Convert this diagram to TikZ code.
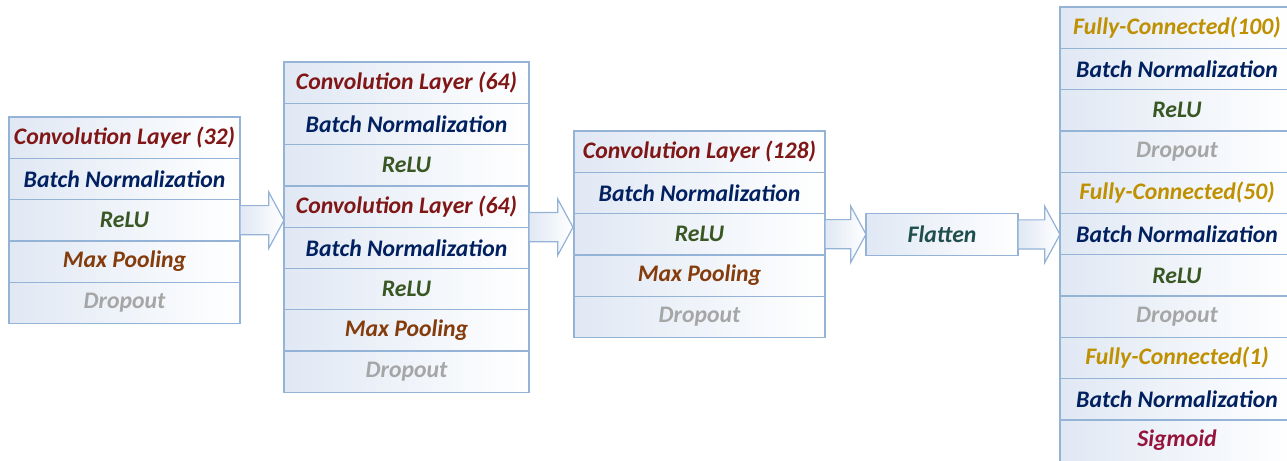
\documentclass[tikz,border=0pt]{standalone}
\usepackage{fontspec}
\setmainfont{Carlito}
\usetikzlibrary{shapes.arrows}

\definecolor{cellline}{RGB}{149,179,215}
\definecolor{cellfill}{RGB}{224,232,244}
\definecolor{convcol}{RGB}{128,22,22}
\definecolor{bncol}{RGB}{0,32,96}
\definecolor{relucol}{RGB}{56,87,35}
\definecolor{poolcol}{RGB}{132,60,12}
\definecolor{dropcol}{RGB}{166,166,166}
\definecolor{fccol}{RGB}{191,144,0}
\definecolor{flatcol}{RGB}{30,78,78}
\definecolor{sigcol}{RGB}{150,20,60}

\tikzset{
  cell/.style = {draw=cellline, line width=0.7pt, left color=cellfill, right color=white,
                 minimum height=0.826cm, inner sep=0pt, outer sep=0pt,
                 font=\fontsize{13.5}{15}\selectfont\bfseries\itshape},
  blockA/.style = {cell, minimum width=4.62cm},
  blockB/.style = {cell, minimum width=4.90cm},
  blockC/.style = {cell, minimum width=5.02cm},
  blockD/.style = {cell, minimum width=4.68cm},
  fatarrow/.style = {single arrow, draw=cellline, line width=0.7pt,
                     left color=cellfill, right color=white,
                     minimum width=0pt, inner xsep=0pt, inner ysep=0.28cm,
                     single arrow head extend=0.27cm,
                     single arrow tip angle=123, minimum height=0.88cm,
                     outer sep=0pt, anchor=tail}
}

\begin{document}
\begin{tikzpicture}
  \useasboundingbox (0,0) rectangle (25.74,-9.22);

  % first convolution block
  \node[blockA, text=convcol] (a1) at (2.49,-2.753) {Convolution Layer (32)};
  \node[blockA, text=bncol]   (a2) at (2.49,-3.579) {Batch Normalization};
  \node[blockA, text=relucol] (a3) at (2.49,-4.405) {ReLU};
  \node[blockA, text=poolcol] (a4) at (2.49,-5.231) {Max Pooling};
  \node[blockA, text=dropcol] (a5) at (2.49,-6.057) {Dropout};

  % second convolution block
  \node[blockB, text=convcol] (b1) at (8.13,-1.653) {Convolution Layer (64)};
  \node[blockB, text=bncol]   (b2) at (8.13,-2.479) {Batch Normalization};
  \node[blockB, text=relucol] (b3) at (8.13,-3.305) {ReLU};
  \node[blockB, text=convcol] (b4) at (8.13,-4.131) {Convolution Layer (64)};
  \node[blockB, text=bncol]   (b5) at (8.13,-4.957) {Batch Normalization};
  \node[blockB, text=relucol] (b6) at (8.13,-5.783) {ReLU};
  \node[blockB, text=poolcol] (b7) at (8.13,-6.609) {Max Pooling};
  \node[blockB, text=dropcol] (b8) at (8.13,-7.435) {Dropout};

  % third convolution block
  \node[blockC, text=convcol] (c1) at (13.99,-3.033) {Convolution Layer (128)};
  \node[blockC, text=bncol]   (c2) at (13.99,-3.859) {Batch Normalization};
  \node[blockC, text=relucol] (c3) at (13.99,-4.685) {ReLU};
  \node[blockC, text=poolcol] (c4) at (13.99,-5.511) {Max Pooling};
  \node[blockC, text=dropcol] (c5) at (13.99,-6.337) {Dropout};

  % flatten
  \node[cell, minimum width=3.04cm, text=flatcol] (flat) at (18.84,-4.69) {Flatten};

  % dense block
  \node[blockD, text=fccol]   (d1)  at (23.54,-0.553) {Fully-Connected(100)};
  \node[blockD, text=bncol]   (d2)  at (23.54,-1.379) {Batch Normalization};
  \node[blockD, text=relucol] (d3)  at (23.54,-2.205) {ReLU};
  \node[blockD, text=dropcol] (d4)  at (23.54,-3.031) {Dropout};
  \node[blockD, text=fccol]   (d5)  at (23.54,-3.857) {Fully-Connected(50)};
  \node[blockD, text=bncol]   (d6)  at (23.54,-4.683) {Batch Normalization};
  \node[blockD, text=relucol] (d7)  at (23.54,-5.509) {ReLU};
  \node[blockD, text=dropcol] (d8)  at (23.54,-6.335) {Dropout};
  \node[blockD, text=fccol]   (d9)  at (23.54,-7.161) {Fully-Connected(1)};
  \node[blockD, text=bncol]   (d10) at (23.54,-7.987) {Batch Normalization};
  \node[blockD, text=sigcol]  (d11) at (23.54,-8.813) {Sigmoid};

  % arrows between blocks
  \node[fatarrow] (ar1) at (a3.east)       {};
  \node[fatarrow] (ar2) at (b4.south east) {};
  \node[fatarrow, minimum height=0.82cm] (ar3) at (c3.east) {};
  \node[fatarrow, minimum height=0.84cm] (ar4) at (flat.east) {};
\end{tikzpicture}
\end{document}
